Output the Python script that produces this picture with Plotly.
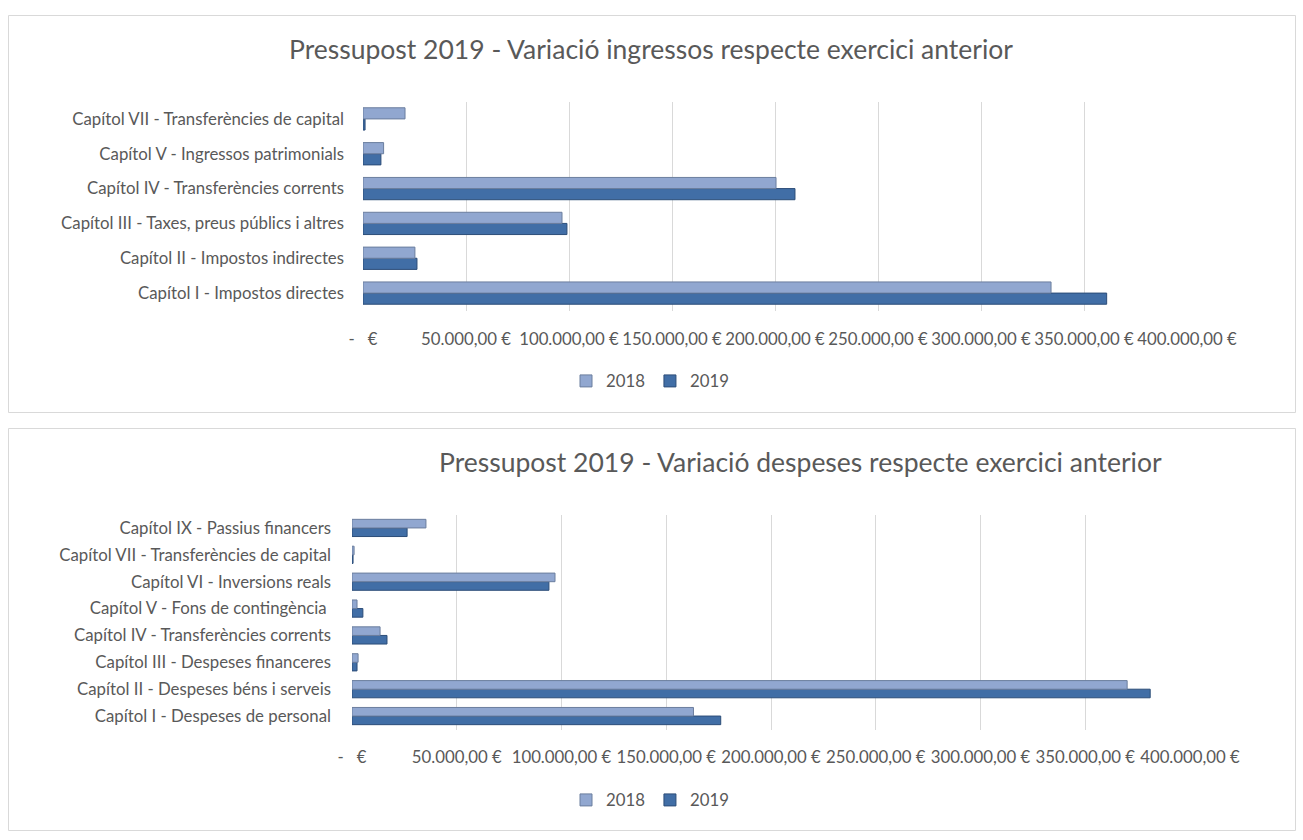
import plotly.graph_objects as go

# ---------------- DATA ----------------
ing_categories = [
    "Capítol I - Impostos directes",
    "Capítol II - Impostos indirectes",
    "Capítol III - Taxes, preus públics i altres",
    "Capítol IV - Transferències corrents",
    "Capítol V - Ingressos patrimonials",
    "Capítol VII - Transferències de capital",
]
ing_2018 = [334000, 25200, 96600, 200500, 10000, 20400]
ing_2019 = [361000, 26200, 99000, 209700, 8700, 1000]

desp_categories = [
    "Capítol I - Despeses de personal",
    "Capítol II - Despeses béns i serveis",
    "Capítol III - Despeses financeres",
    "Capítol IV - Transferències corrents",
    "Capítol V - Fons de contingència ",
    "Capítol VI - Inversions reals",
    "Capítol VII - Transferències de capital",
    "Capítol IX - Passius financers",
]
desp_2018 = [163000, 370000, 2900, 13400, 2400, 96900, 1000, 35300]
desp_2019 = [176000, 381000, 2400, 16700, 5200, 94000, 500, 26300]

series_names = ["2018", "2019"]
tick_values = [0, 50000, 100000, 150000, 200000, 250000, 300000, 350000, 400000]
tick_labels = ["-   €", "50.000,00 €", "100.000,00 €", "150.000,00 €", "200.000,00 €",
               "250.000,00 €", "300.000,00 €", "350.000,00 €", "400.000,00 €"]

title_top = "Pressupost 2019 - Variació ingressos respecte exercici anterior"
title_bottom = "Pressupost 2019 - Variació despeses respecte exercici anterior"

# ---------------- STYLE ----------------
W, H = 1303, 840
FONT = "Lato, Open Sans, sans-serif"
TXT = "#595959"
C18, C18L = "#91A7D0", "#6B7E9E"
C19, C19L = "#416EA6", "#2C4D78"
LBL = 16.8
TTL = 26.5


def px(x):
    return x / W


def py(y):
    return 1 - y / H


fig = go.Figure()

# top chart (2019 added first so 2018 sits on top within each group)
fig.add_trace(go.Bar(y=ing_categories, x=ing_2019, orientation="h", name=series_names[1],
                     marker=dict(color=C19, line=dict(color=C19L, width=1)),
                     xaxis="x", yaxis="y", legend="legend"))
fig.add_trace(go.Bar(y=ing_categories, x=ing_2018, orientation="h", name=series_names[0],
                     marker=dict(color=C18, line=dict(color=C18L, width=1)),
                     xaxis="x", yaxis="y", legend="legend"))
# bottom chart
fig.add_trace(go.Bar(y=desp_categories, x=desp_2019, orientation="h", name=series_names[1],
                     marker=dict(color=C19, line=dict(color=C19L, width=1)),
                     xaxis="x2", yaxis="y2", legend="legend2"))
fig.add_trace(go.Bar(y=desp_categories, x=desp_2018, orientation="h", name=series_names[0],
                     marker=dict(color=C18, line=dict(color=C18L, width=1)),
                     xaxis="x2", yaxis="y2", legend="legend2"))

xaxis_common = dict(range=[0, 400000], tickvals=tick_values, ticktext=tick_labels,
                    showgrid=True, gridcolor="#D9D9D9", gridwidth=1, zeroline=False,
                    showline=False, ticks="", tickfont=dict(family=FONT, size=LBL, color=TXT),
                    fixedrange=True, automargin=False)
yaxis_common = dict(type="category", showgrid=False, zeroline=False, showline=False, ticks="",
                    tickfont=dict(family=FONT, size=LBL, color=TXT), fixedrange=True,
                    automargin=False)

fig.update_layout(
    width=W, height=H,
    margin=dict(l=0, r=0, t=0, b=0, autoexpand=False),
    paper_bgcolor="white", plot_bgcolor="white",
    barmode="group", bargap=0.36, bargroupgap=0.0,
    font=dict(family=FONT, color=TXT),
    xaxis=dict(domain=[px(363), px(1187)], anchor="y", ticklabelstandoff=17, **xaxis_common),
    yaxis=dict(domain=[py(310.5), py(101.5)], anchor="x", ticklabelstandoff=18, **yaxis_common),
    xaxis2=dict(domain=[px(352), px(1190)], anchor="y2", ticklabelstandoff=16, **xaxis_common),
    yaxis2=dict(domain=[py(729.5), py(514.5)], anchor="x2", ticklabelstandoff=20, **yaxis_common),
    legend=dict(orientation="h", x=px(650), xanchor="center", y=py(381), yanchor="middle",
                traceorder="reversed", font=dict(family=FONT, size=LBL, color=TXT),
                bgcolor="rgba(0,0,0,0)", itemwidth=30),
    legend2=dict(orientation="h", x=px(650), xanchor="center", y=py(800), yanchor="middle",
                 traceorder="reversed", font=dict(family=FONT, size=LBL, color=TXT),
                 bgcolor="rgba(0,0,0,0)", itemwidth=30),
    showlegend=True,
    shapes=[
        dict(type="rect", xref="paper", yref="paper", x0=px(8.5), x1=px(1295.5),
             y0=py(412.5), y1=py(15.5), line=dict(color="#D9D9D9", width=1), fillcolor="rgba(0,0,0,0)",
             layer="below"),
        dict(type="rect", xref="paper", yref="paper", x0=px(8.5), x1=px(1295.5),
             y0=py(830.5), y1=py(428.5), line=dict(color="#D9D9D9", width=1), fillcolor="rgba(0,0,0,0)",
             layer="below"),
    ],
    annotations=[
        dict(text=title_top, xref="paper", yref="paper", x=px(651), y=py(49), xanchor="center",
             yanchor="middle", showarrow=False, font=dict(family=FONT, size=TTL, color=TXT)),
        dict(text=title_bottom, xref="paper", yref="paper", x=px(800), y=py(462), xanchor="center",
             yanchor="middle", showarrow=False, font=dict(family=FONT, size=TTL, color=TXT)),
    ],
)

fig.write_html("out.html", config={"displayModeBar": False},
               post_script="document.body.style.margin='0';document.body.style.overflow='hidden';")
